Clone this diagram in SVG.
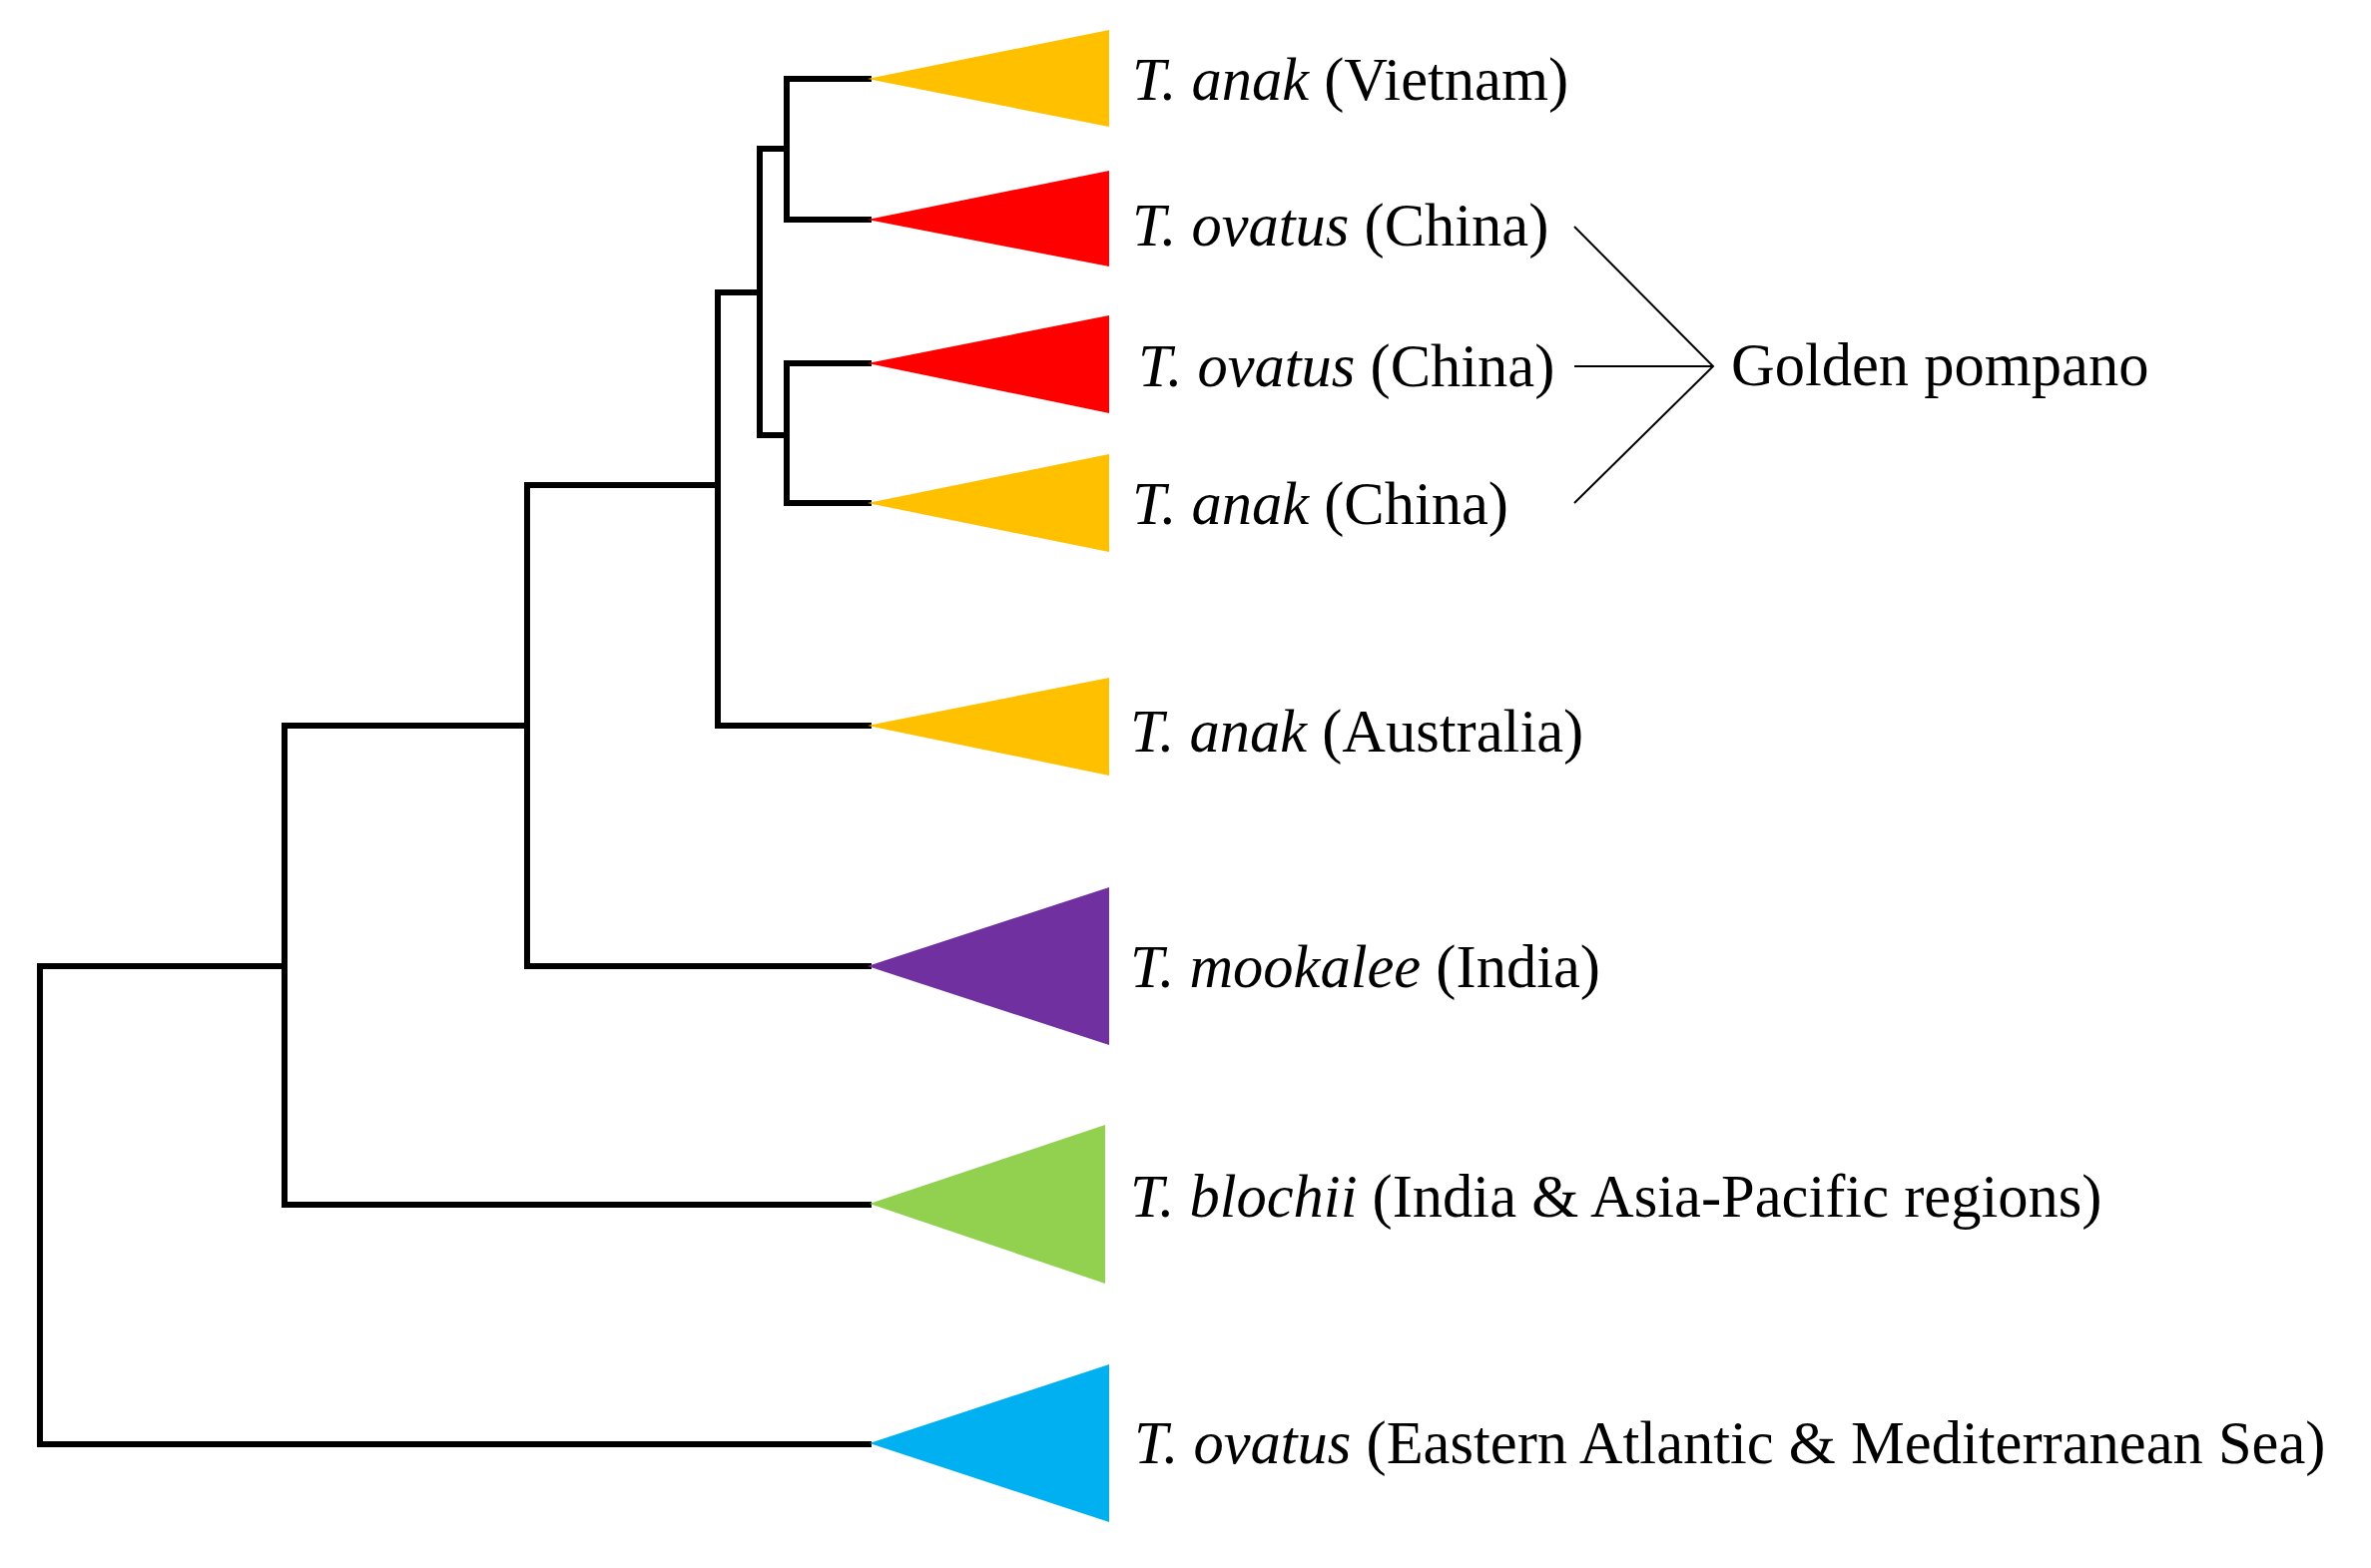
<svg xmlns="http://www.w3.org/2000/svg" width="2375" height="1571" viewBox="0 0 2375 1571">
<style>
.br{fill:none;stroke:#000;stroke-width:6;stroke-linecap:square;stroke-linejoin:miter}
.thin{fill:none;stroke:#000;stroke-width:2}
.lbl{font-family:"Liberation Serif","Times New Roman",serif;font-size:60.5px;fill:#000}
.it{font-style:italic}
.yel{fill:#FFC000}.red{fill:#FF0000}.pur{fill:#7030A0}.grn{fill:#92D050}.blu{fill:#00B0F0}
</style>
<rect width="2375" height="1571" fill="#fff"/>
<g id="connectors">
<path class="br" d="M285,968 H40 V1447 H870"/>
<path class="br" d="M528,727 H285 V1207 H870"/>
<path class="br" d="M719,486 H528 V968 H870"/>
<path class="br" d="M761,293 H719 V727 H870"/>
<path class="br" d="M788,149 H761 V436 H788"/>
<path class="br" d="M870,79 H788 V220 H870"/>
<path class="br" d="M870,364 H788 V504 H870"/>
<path class="thin" d="M1577,227 L1716,367 L1577,504 M1577,367 H1716"/>
</g>
<g id="clade-anak-vietnam">
<polygon class="yel" points="869,79 1111,30 1111,127"/>
<text class="lbl" x="1134" y="100"><tspan class="it">T. anak</tspan> (Vietnam)</text>
</g>
<g id="clade-ovatus-china-1">
<polygon class="red" points="869,220 1111,171 1111,267"/>
<text class="lbl" x="1134" y="246"><tspan class="it">T. ovatus</tspan> (China)</text>
</g>
<g id="clade-ovatus-china-2">
<polygon class="red" points="869,364 1111,316 1111,414"/>
<text class="lbl" x="1140" y="387"><tspan class="it">T. ovatus</tspan> (China)</text>
</g>
<g id="clade-anak-china">
<polygon class="yel" points="869,504 1111,455 1111,553"/>
<text class="lbl" x="1134" y="525"><tspan class="it">T. anak</tspan> (China)</text>
</g>
<g id="clade-anak-australia">
<polygon class="yel" points="869,727 1111,679 1111,777"/>
<text class="lbl" x="1132" y="753"><tspan class="it">T. anak</tspan> (Australia)</text>
</g>
<g id="clade-mookalee">
<polygon class="pur" points="869,968 1111,889 1111,1047"/>
<text class="lbl" x="1132" y="989"><tspan class="it">T. mookalee</tspan> (India)</text>
</g>
<g id="clade-blochii">
<polygon class="grn" points="871,1206 1107,1127 1107,1286"/>
<text class="lbl" x="1132" y="1219"><tspan class="it">T. blochii</tspan> (India &amp; Asia-Pacific regions)</text>
</g>
<g id="clade-ovatus-atlantic">
<polygon class="blu" points="871,1446 1111,1367 1111,1525"/>
<text class="lbl" x="1136" y="1466"><tspan class="it">T. ovatus</tspan> (Eastern Atlantic &amp; Mediterranean Sea)</text>
</g>
<g id="golden-pompano">
<text class="lbl" x="1734" y="386">Golden pompano</text>
</g>
</svg>
